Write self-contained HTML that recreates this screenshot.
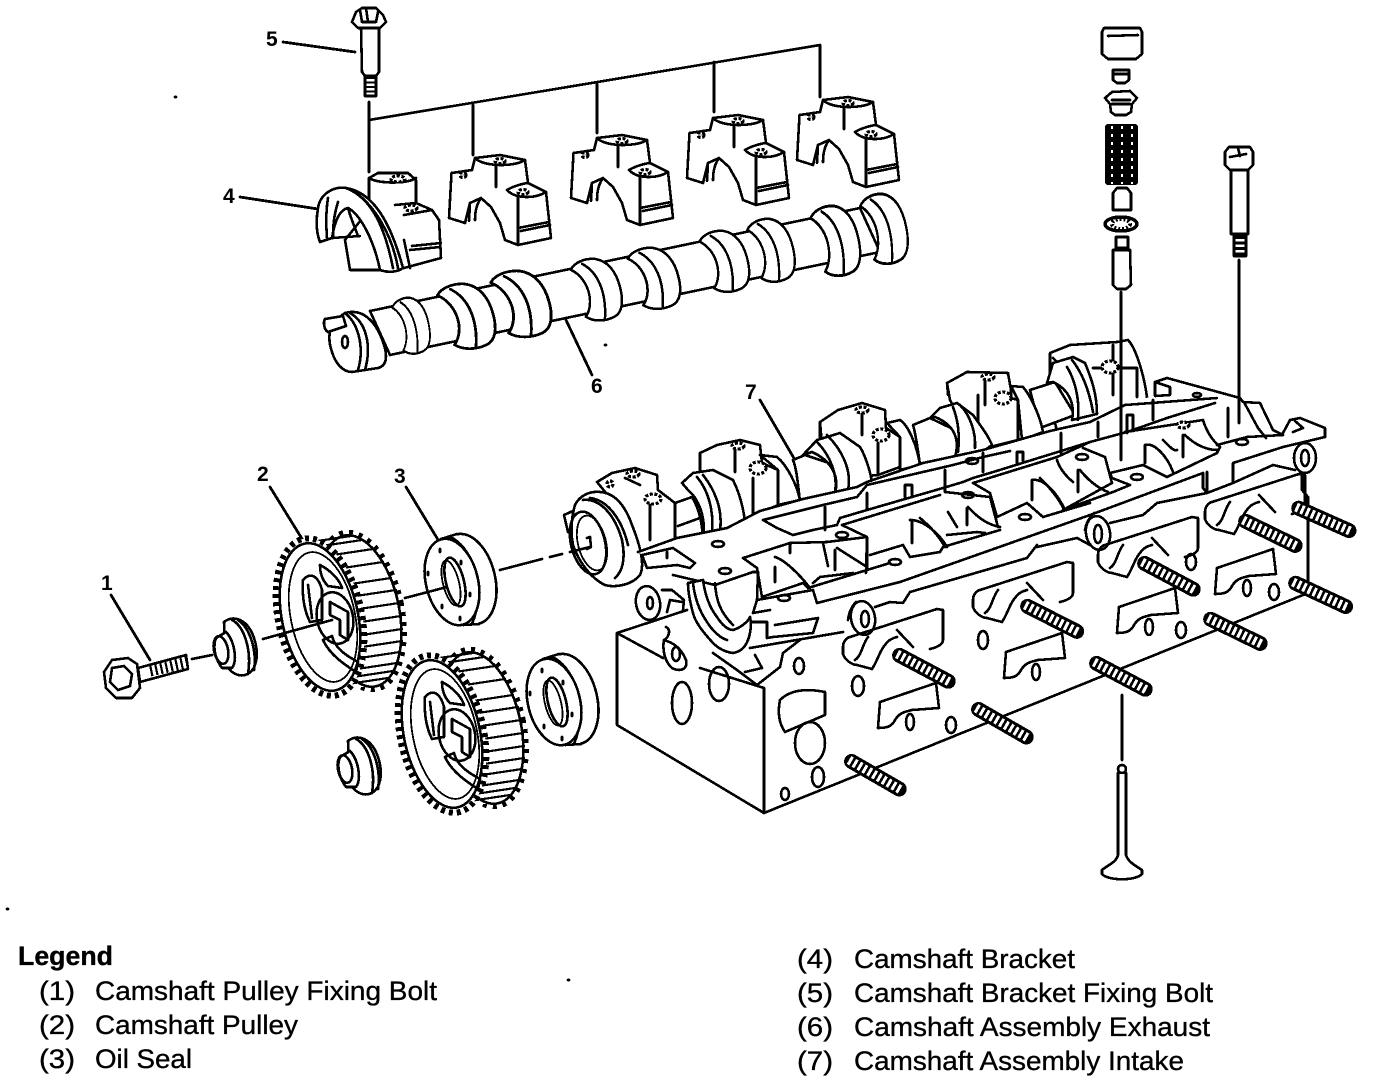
<!DOCTYPE html>
<html><head><meta charset="utf-8"><style>
html,body{margin:0;padding:0;background:#fff}
svg{display:block}
text{font-family:"Liberation Sans",sans-serif;fill:#000;stroke:#000;stroke-width:.35}
.n{font-size:21px;font-weight:bold;stroke:none}
.d{fill:none;stroke:#000;stroke-width:2.6;stroke-linejoin:round;stroke-linecap:round}
.w{fill:#fff;stroke:#000;stroke-width:2.6;stroke-linejoin:round;stroke-linecap:round}
.t{fill:none;stroke:#000;stroke-width:1.8;stroke-linejoin:round;stroke-linecap:round}
.b{fill:#fff;stroke:#000;stroke-width:3.2;stroke-dasharray:3 1.6}
</style></head><body>
<svg width="1376" height="1082" viewBox="0 0 1376 1082" xmlns="http://www.w3.org/2000/svg">
<defs>
<g id="br">
 <path class="w" d="M2.5,18 L23,15 L26,3 L51,0 L76,5 L79,28 L97,37 L102,83 L69,90 L56,85 L51,68 L42,52 L32,43 L21,48 L16,68 L0,63 Z"/>
 <path class="d" d="M26,3 C34,12 66,12 76,5 M47,10 L47,32 M58,35 C66,30 78,28 79,28 M58,35 C66,44 86,44 97,37 M69,42 L69,90 M69,73 L100,67 M72,76 L101,70 M21,48 L20,66 M32,43 C27,50 26,58 26,65"/>
 <ellipse class="b" cx="51" cy="6" rx="5" ry="2.5"/><ellipse class="b" cx="74" cy="37" rx="5" ry="2.5"/><ellipse class="b" cx="14" cy="20" rx="3" ry="2.5"/>
</g>
<g id="lobe">
 <path class="w" d="M6,12 C10,4 22,0 32,1 C45,3 54,14 58,30 C62,45 60,56 52,60 C42,65 30,65 22,60 C32,45 24,20 6,12 Z"/>
 <path class="d" d="M18,6 C34,14 44,34 42,63"/>
</g>
<g id="gear">
 <ellipse cx="360" cy="611" rx="42" ry="80" transform="rotate(-12 360 611)" fill="#fff" stroke="#000" stroke-width="5" stroke-dasharray="4 6"/>
 <path d="M304,543 L344,537 L376,685 L336,691Z" fill="#fff"/>
 <ellipse class="w" cx="360" cy="611" rx="39" ry="77" transform="rotate(-12 360 611)"/>
 <path class="t" style="stroke-width:2.2" d="M311,542 L351,536 M322,546 L362,540 M333,555 L373,549 M343,568 L383,562 M351,584 L391,578 M356,596 L396,590 M359,609 L399,603 M361,622 L401,616 M362,635 L402,629 M362,647 L402,641 M360,658 L400,652 M357,669 L397,663 M353,677 L393,671 M348,684 L388,678"/>
 <ellipse cx="320" cy="617" rx="42" ry="80" transform="rotate(-12 320 617)" fill="#fff" stroke="#000" stroke-width="6" stroke-dasharray="4 4"/>
 <ellipse class="w" cx="320" cy="617" rx="38" ry="75" transform="rotate(-12 320 617)"/>
 <ellipse class="t" cx="323" cy="617" rx="32" ry="66" transform="rotate(-12 323 617)"/>
 <ellipse class="d" cx="335" cy="618" rx="18" ry="26" transform="rotate(-12 335 618)"/>
 <path class="d" d="M303,580 C310,572 318,575 322,590 L322,620 L310,622 C304,610 302,595 303,580Z M308,585 L312,618 M320,565 C330,570 340,580 342,588 L328,586 C322,580 320,572 320,565Z M323,640 C330,655 345,665 356,672 L358,662 C345,655 335,648 332,636Z M330,602 L348,612 L348,640 L340,635 L340,620 L330,615Z"/>
</g>
<g id="seal">
 <ellipse class="w" cx="468" cy="579" rx="27" ry="46" transform="rotate(-14 468 579)"/>
 <path d="M441,539 L457,534 L479,624 L463,625Z" fill="#fff"/>
 <path class="d" d="M441,539 L457,534 M463,625 L479,624 M450,537 C470,545 488,585 472,624"/>
 <ellipse class="w" cx="452" cy="582" rx="26" ry="44" transform="rotate(-14 452 582)"/>
 <ellipse class="w" cx="455" cy="582" rx="9" ry="25" transform="rotate(-14 455 582)"/>
 <ellipse class="t" cx="451" cy="583" rx="8" ry="23" transform="rotate(-14 451 583)"/>
 <path class="d" d="M440,549 l0,3 M428,572 l0,3 M461,561 l0,3 M470,593 l0,3 M442,605 l0,3 M460,617 l0,3"/>
</g>
<g id="bush">
 <path class="w" d="M224,622 C234,614 248,620 254,638 C260,656 256,672 245,675 C238,677 230,672 226,665Z"/>
 <path class="d" d="M232,620 C244,626 252,650 248,674 M238,620 C250,628 257,650 254,670"/>
 <path class="w" d="M216,638 L226,632 C234,640 238,660 232,668 L222,668 C216,660 212,648 216,638Z"/>
 <ellipse class="d" cx="221" cy="650" rx="7" ry="14" transform="rotate(-12 221 650)"/>
</g>
<g id="stud">
 <line x1="3" y1="0" x2="58" y2="0" stroke="#000" stroke-width="15" stroke-linecap="round"/>
 <line x1="0" y1="0" x2="61" y2="0" stroke="#fff" stroke-width="9" stroke-dasharray="3 2.6"/>
</g>
<g id="port1">
 <path class="d" d="M843,647 C843,642 846,638 850,637 L937,609 L943,610 L943,640 C943,645 935,648 930,649 M843,647 L843,654 C845,660 852,665 857,665 L872,669 C878,660 880,650 885,645 C888,640 893,638 897,637 M868,637 C862,645 862,655 855,660 M897,630 L913,647"/>
</g>
<g id="port2">
 <path class="d" d="M880,702 L936,683 L939,708 L912,710 C905,712 900,712 895,720 C892,726 888,728 878,728 Z"/>
 <ellipse class="d" cx="910" cy="722" rx="4" ry="8"/>
</g>
</defs>

<g shape-rendering="crispEdges">
<!-- leaders top -->
<path class="d" d="M369,120 L820,45 M369,102 L369,172 M473,105 L473,155 M597,84 L597,133 M714,62 L714,112 M820,45 L820,97"/>
<path class="d" d="M283,42 L355,52 M240,197 L318,209 M566,320 L592,375 M760,400 L795,460 M111,595 L150,660 M270,487 L304,542 M406,487 L440,543" style="stroke-width:2.8"/>
<!-- bolt 5 -->
<path class="w" d="M356,12 L362,8 L376,8 L383,15 L386,22 L380,28 L358,28 L352,22Z"/>
<path class="d" d="M360,10 L362,22 L376,22 L378,12 M366,8 L368,22"/>
<path class="w" d="M361,28 L379,28 L379,72 L376,76 L365,76 L362,72Z"/>
<path class="w" d="M365,76 L376,76 L376,96 L365,96Z"/>
<line x1="370.5" y1="77" x2="370.5" y2="96" stroke="#000" stroke-width="10" stroke-dasharray="2 2.5"/>
<!-- brackets -->
<use href="#br" x="797" y="97"/><use href="#br" x="687" y="115"/><use href="#br" x="571" y="135"/><use href="#br" x="449" y="155"/>
<!-- bracket 1 -->
<path class="w" d="M369,178 L378,173 L408,173 L416,180 L416,203 L432,210 L439,220 L441,258 L404,268 L395,270 L385,270 L350,270 L345,240 L369,210Z"/>
<path class="d" d="M369,178 C378,184 408,184 416,178 M416,203 L395,205 M432,210 L404,215 M412,246 L441,243 M410,250 L440,247 M404,240 L410,268"/>
<path class="w" d="M318,208 C320,195 332,186 346,188 C372,192 390,220 403,268 C398,272 388,273 380,270 C374,240 360,214 348,208 C338,210 334,225 332,238 L320,242 C316,232 316,220 318,208Z"/>
<path class="d" d="M346,188 C372,198 385,228 393,268 M352,190 C375,205 392,235 398,268 M328,198 C326,210 326,225 327,238 M338,202 C334,215 333,225 333,238 M332,238 L360,236 M348,208 C352,222 356,230 358,236"/>
<ellipse class="b" cx="398" cy="179" rx="7" ry="3"/><ellipse class="b" cx="411" cy="208" rx="6" ry="3"/>
<!-- camshaft -->
<path class="w" d="M370,311 L860,208 L880,252 L390,355Z"/>
<use href="#lobe" transform="translate(855 193) scale(.88 1.11)"/>
<use href="#lobe" transform="translate(805 205) scale(.92 1.11)"/>
<use href="#lobe" transform="translate(742 218) scale(.88 1)"/>
<use href="#lobe" transform="translate(694 230) scale(.92 .97)"/>
<use href="#lobe" transform="translate(622 247) scale(.97 .97)"/>
<use href="#lobe" transform="translate(565 258) scale(.95 .98)"/>
<use href="#lobe" transform="translate(484 270) scale(1.12 1.05)"/>
<use href="#lobe" transform="translate(431 283) scale(1.07 1.03)"/>
<use href="#lobe" transform="translate(388 297) scale(.7 .89)"/>
<path class="w" d="M345,313 C362,308 376,320 384,345 C388,358 386,366 378,368 L352,372 C342,372 335,362 332,352 C328,340 326,325 345,313Z"/>
<path class="d" d="M350,313 C366,322 372,345 365,370 M345,313 C360,325 364,350 358,370"/>
<ellipse class="d" cx="345" cy="342" rx="3" ry="6"/>
<path class="w" d="M325,319 L343,316 L346,326 L328,332 C324,330 323,322 325,319Z"/>

<!-- INTAKE CAM right to left -->
<path class="w" d="M1050,353 L1070,345 L1117,342 L1128,340 C1136,348 1144,375 1147,397 L1147,420 L1060,445 L1050,400Z"/>
<path class="d" d="M1093,368 L1137,368 L1137,397 M1113,345 L1113,395 M1053,358 L1060,365"/>
<ellipse class="b" cx="1110" cy="367" rx="8" ry="6"/>
<path class="w" d="M1030,390 L1055,382 L1075,415 L1040,428Z"/>
<path class="w" d="M1047,383 L1053,363 L1073,357 L1085,363 C1092,380 1097,395 1097,414 L1072,420 C1075,405 1070,390 1053,382 Z"/>
<path class="d" d="M1067,367 C1075,380 1080,400 1078,420 M1072,360 C1084,375 1090,395 1093,412"/>
<path class="w" d="M947,383 L967,372 L1008,373 L1011,390 L1011,398 L1018,400 L1018,440 L978,450 L950,400Z"/>
<path class="d" d="M985,378 L985,405 M947,383 L948,395 M978,395 L978,450"/>
<ellipse class="b" cx="988" cy="377" rx="6" ry="3"/><ellipse class="b" cx="1003" cy="398" rx="8" ry="6"/>
<path class="w" d="M1011,386 L1023,387 C1030,395 1040,415 1043,432 L1022,440 L1018,400Z"/>
<path class="w" d="M913,425 L930,418 L955,430 L960,455 L920,465 C918,450 916,435 913,425Z"/>
<path class="w" d="M930,418 L940,408 L957,403 L973,415 C980,425 988,435 992,445 L985,450 L955,457 C960,440 955,425 935,417Z"/>
<path class="d" d="M953,407 C958,420 960,435 958,452 M960,405 C970,415 976,432 975,448"/>
<path class="w" d="M820,422 L838,410 L862,403 L885,410 L886,428 L900,437 L900,467 L878,475 L825,480Z"/>
<path class="d" d="M862,410 L862,435 M878,443 L878,475 M820,422 L820,440"/>
<ellipse class="b" cx="862" cy="410" rx="6" ry="3"/><ellipse class="b" cx="881" cy="435" rx="8" ry="6"/>
<path class="w" d="M887,423 L900,420 C908,425 917,445 920,465 L900,470 L900,437Z"/>
<path class="w" d="M793,460 L805,455 L835,465 L838,492 L800,502 C798,485 797,470 793,460Z"/>
<path class="w" d="M803,455 L817,440 L840,433 L860,447 C865,455 870,470 872,482 L850,490 L835,493 C840,475 830,460 812,452Z"/>
<path class="d" d="M817,442 C830,455 838,475 835,492 M827,435 C842,450 852,470 848,490"/>
<path class="w" d="M700,453 L717,445 L740,440 L760,445 L762,463 L778,470 L778,505 L745,520 L700,470Z"/>
<path class="d" d="M735,448 L735,472 M753,478 L753,520 M700,453 L700,472"/>
<ellipse class="b" cx="738" cy="446" rx="6" ry="3"/><ellipse class="b" cx="758" cy="468" rx="8" ry="6"/>
<path class="w" d="M760,455 L777,457 C787,465 797,485 800,500 L778,505 L778,470Z"/>
<path class="w" d="M682,483 L693,473 L713,470 L733,480 C738,490 743,505 745,522 L720,533 L703,537 C706,520 700,500 688,490Z"/>
<path class="d" d="M703,475 C715,490 723,510 720,530 M697,477 C708,490 714,510 712,532"/>
<path class="w" d="M675,503 L692,497 C700,510 702,525 703,537 L680,543 L675,540Z"/>
<path class="d" d="M678,526 L700,518"/>
<path class="w" d="M597,482 L612,473 L635,468 L657,475 L658,490 L675,503 L675,540 L640,552 L620,510Z"/>
<path class="d" d="M650,500 L650,540 M625,478 L640,485"/>
<ellipse class="b" cx="633" cy="474" rx="6" ry="3"/><ellipse class="b" cx="653" cy="499" rx="8" ry="5"/><ellipse class="b" cx="610" cy="484" rx="3" ry="3"/>
<!-- pulley -->
<path class="w" d="M564,515 L575,510 L575,530 L568,532Z"/>
<path class="w" d="M575,505 C580,495 590,491 600,492 C615,493 625,505 632,525 C640,545 645,565 640,575 C632,585 615,588 605,585 C590,578 578,560 573,545 C570,530 572,515 575,505Z"/>
<path class="d" d="M583,500 C600,498 615,515 622,540 C626,560 622,572 615,578 M590,498 C608,500 622,520 628,545"/>
<ellipse class="d" cx="588" cy="543" rx="17" ry="32" transform="rotate(-14 588 543)"/>
<ellipse class="t" cx="592" cy="543" rx="14" ry="28" transform="rotate(-14 592 543)"/>
<path class="d" d="M587,538 L590,537 L591,547 L587,549"/>

<!-- HEAD fill -->
<path d="M638,552 L677,538 L727,528 L760,511 L803,499 L857,487 L867,482 L923,463 L983,450 L1050,431 L1090,422 L1125,405 L1155,395 L1155,382 L1167,378 L1240,398 L1260,403 L1283,433 L1290,420 L1300,418 L1325,428 L1325,437 L1308,470 L1308,593 L764,813 L617,725 L617,633 L687,610 L672,575Z" fill="#fff"/>
<path class="d" d="M617,633 L687,610 M617,633 L617,725 L764,813 L1308,593 M1302,472 L1302,490 L1308,497 L1308,593 M617,633 L663,658 M700,668 L764,688 M764,688 L764,813"/>
<!-- rear rail -->
<path class="d" d="M638,552 L677,538 L727,528 L760,511 L803,499 L857,487 L867,482 L923,463 L983,450 L1050,431 L1090,422 L1125,405 L1217,398"/>
<path class="d" d="M1155,395 L1155,382 L1167,378 L1240,398 L1243,402 L1260,403 L1273,430 L1283,435 M1155,382 L1170,387 L1170,395 L1155,396 M1245,404 L1258,428 L1266,438"/>
<path class="d" d="M763,520 L777,528 L793,535 L813,530 L837,525 L840,518 L867,510 L943,488 L963,482 L973,478 L990,473 L1090,442 L1127,432 L1167,418 L1215,403 M763,520 L823,505 L857,497 L867,485 L953,465 L983,457 L1010,451"/>
<!-- rail verticals -->
<path class="d" d="M825,507 L825,530 M867,493 L867,510 M905,497 L905,485 L912,485 L912,495 M945,470 L945,492 M983,453 L983,472 M1017,463 L1017,452 L1023,452 L1023,461 M1061,433 L1061,453 M1098,422 L1098,437 M1127,433 L1127,415 L1133,415 L1133,431 M1153,400 L1153,420 M1228,408 L1228,437"/>
<!-- pocket lines -->
<path class="d" d="M743,558 L790,543 L827,542 L867,537 L866,573 M743,558 L757,568 L762,597 L803,583 L808,588 L890,563"/>
<path class="d" d="M775,567 L775,582 M775,557 C785,560 800,575 810,588 M813,583 L820,577 L853,573 M835,550 L835,570 M837,548 L867,567 M790,545 L790,553 M823,543 L828,566"/>
<path class="d" d="M842,525 L867,537 L867,570 M842,525 L940,495 M945,492 L990,497 L998,527 M870,555 L903,545 L910,557 L940,552 L943,547 L1000,530 M910,520 C925,520 940,535 947,547 M912,520 L912,543 M920,518 C932,528 940,538 945,547 M948,512 L957,527 M967,508 L967,525 M968,507 C978,518 988,525 1000,527 M947,535 L977,532 L985,533"/>
<path class="d" d="M973,483 L990,493 L997,517 L1027,503 L1043,517 L1090,503 M973,483 L1057,457 L1090,442 M1032,480 C1045,478 1058,495 1065,510 M1032,480 L1032,500 M1040,478 C1050,488 1060,500 1064,510 M1057,460 C1060,470 1068,478 1073,482 M1078,470 L1078,492 M1080,470 C1088,480 1098,488 1108,492"/>
<path class="d" d="M1083,448 L1105,457 L1112,483 L1063,510 M1063,510 L1113,492 L1130,485 L1112,478 L1110,473 L1143,465 L1167,477 L1217,453 M1145,445 C1155,442 1168,458 1173,472 M1145,445 L1145,463 M1163,440 C1168,445 1174,452 1177,450 M1183,435 L1183,457 M1185,435 C1195,445 1207,450 1217,450 M1125,432 L1203,420 C1206,430 1212,440 1220,447 L1217,453 M1217,445 L1247,437 L1283,435"/>
<!-- front rails -->
<path class="d" d="M817,603 L900,582 L1090,515 L1203,473 M1207,472 L1207,493 M1203,473 L1203,488 L1207,493"/>
<path class="d" d="M875,607 L890,602 L903,603 L910,592 L1027,558 L1037,545 M1037,547 L1077,538 L1090,545 M1110,523 L1143,515 L1157,503 L1207,493 L1233,483 L1233,463 L1283,447 L1325,437 M1233,483 L1273,465 L1295,470"/>
<path class="d" d="M642,555 L673,548 L695,563 L690,568 L677,565 L647,568 Z M667,552 L667,558 M673,575 L715,585 L753,572 L758,572 L757,600 L753,613 L770,610 M752,622 L767,622 L767,638 L773,637 L813,633 L818,618 L775,625 M750,648 L843,632 M757,600 L813,590 L817,603"/>
<!-- bearing -->
<path class="w" d="M688,583 L703,580 C705,595 710,608 717,617 C722,625 728,630 733,630 C740,628 748,622 750,617 C752,625 750,635 748,640 C745,648 740,652 733,653 C725,652 718,648 713,643 C703,632 695,622 693,613 C690,602 688,592 688,583Z"/>
<path class="d" d="M693,583 C695,600 700,612 707,622 C712,630 720,638 727,640 M715,583 C716,600 720,612 733,625"/>
<path class="d" d="M713,653 L737,670 L757,685 L780,667 L783,653 L800,640 M755,655 L762,668 L745,672"/>
<!-- lugs -->
<ellipse class="w" cx="648" cy="603" rx="12" ry="17" transform="rotate(-10 648 603)"/><ellipse class="d" cx="650" cy="603" rx="3" ry="6"/>
<path class="d" d="M662,590 L672,590 L684,600 L683,610 M667,612 L670,600 L682,602"/>
<path class="d" d="M666,627 C672,630 668,638 664,640 C670,642 680,645 686,660 C688,670 680,672 672,668 C665,662 662,650 664,640"/>
<ellipse class="d" cx="676" cy="654" rx="4" ry="7"/>
<ellipse class="w" cx="1098" cy="533" rx="12" ry="17" transform="rotate(-10 1098 533)"/><ellipse class="d" cx="1098" cy="534" rx="4" ry="9"/>
<ellipse class="w" cx="1305" cy="458" rx="11" ry="15"/><ellipse class="d" cx="1305" cy="458" rx="4" ry="8"/>
<ellipse class="w" cx="863" cy="618" rx="12" ry="17" transform="rotate(-10 863 618)"/><ellipse class="d" cx="865" cy="619" rx="4" ry="8"/>
<path class="d" d="M1283,433 L1290,420 L1300,418 L1325,428 L1325,437 M1295,421 L1303,428 L1293,432 M848,620 C849,612 852,606 856,602 M1085,530 C1086,522 1090,517 1094,513"/>
<!-- deck bolts -->
<ellipse class="d" cx="718" cy="544" rx="6" ry="3"/><ellipse class="d" cx="725" cy="571" rx="6" ry="3"/><ellipse class="d" cx="784" cy="598" rx="6" ry="3"/><ellipse class="d" cx="842" cy="535" rx="6" ry="3"/><ellipse class="d" cx="895" cy="562" rx="6" ry="3"/><ellipse class="d" cx="968" cy="495" rx="6" ry="3"/><ellipse class="d" cx="972" cy="461" rx="6" ry="3"/><ellipse class="d" cx="1025" cy="517" rx="6" ry="3"/><ellipse class="d" cx="1082" cy="457" rx="6" ry="3"/><ellipse class="d" cx="1137" cy="477" rx="6" ry="3"/><ellipse class="b" cx="1183" cy="425" rx="6" ry="3"/><ellipse class="d" cx="1242" cy="442" rx="6" ry="3"/><ellipse class="d" cx="1197" cy="395" rx="4" ry="2"/>
<!-- face holes -->
<ellipse class="d" cx="682" cy="703" rx="10" ry="21"/><ellipse class="d" cx="719" cy="684" rx="10" ry="17"/>
<path class="d" d="M780,700 C790,690 805,688 825,692 L825,715 L785,732 C778,722 778,710 780,700Z"/>
<ellipse class="d" cx="810" cy="743" rx="15" ry="21"/>
<ellipse class="d" cx="799" cy="666" rx="5" ry="8"/><ellipse class="d" cx="858" cy="686" rx="6" ry="10"/><ellipse class="d" cx="951" cy="725" rx="5" ry="8"/><ellipse class="d" cx="983" cy="640" rx="5" ry="9"/><ellipse class="d" cx="1181" cy="630" rx="5" ry="8"/><ellipse class="d" cx="1191" cy="562" rx="5" ry="8"/><ellipse class="d" cx="1274" cy="592" rx="5" ry="8"/><ellipse class="d" cx="818" cy="777" rx="6" ry="10"/><ellipse class="d" cx="785" cy="794" rx="4" ry="6"/>
<!-- ports -->
<use href="#port1"/><use href="#port1" x="130" y="-47"/><use href="#port1" x="255" y="-92"/><use href="#port1" x="362" y="-135"/>
<use href="#port2"/><use href="#port2" x="126" y="-50"/><use href="#port2" x="239" y="-95"/><use href="#port2" x="337" y="-134"/>
<!-- studs -->
<use href="#stud" transform="translate(897 654) rotate(28)"/>
<use href="#stud" transform="translate(1025 605) rotate(27)"/>
<use href="#stud" transform="translate(1142 562) rotate(28)"/>
<use href="#stud" transform="translate(1243 520) rotate(26)"/>
<use href="#stud" transform="translate(1296 507) rotate(24)"/>
<use href="#stud" transform="translate(1293 582) rotate(25)"/>
<use href="#stud" transform="translate(1208 618) rotate(26)"/>
<use href="#stud" transform="translate(1094 662) rotate(28)"/>
<use href="#stud" transform="translate(976 708) rotate(30)"/>
<use href="#stud" transform="translate(849 760) rotate(30)"/>

<!-- Valve train -->
<path class="w" d="M1104,28 L1140,28 L1142,32 L1142,54 L1136,59 L1108,59 L1102,54 L1102,32Z"/>
<path class="d" d="M1108,36 L1138,35"/>
<path class="w" d="M1113,70 L1129,70 L1129,80 L1125,83 L1117,83 L1113,80Z"/><path class="d" d="M1114,74 L1128,74"/>
<path class="w" d="M1112,92 L1130,91 L1137,98 L1132,104 L1131,112 L1126,115 L1115,115 L1111,112 L1110,104 L1105,98Z"/><path class="d" d="M1112,100 L1130,100 M1112,104 L1130,104"/>
<rect x="1105" y="124" width="33" height="61" rx="3" fill="#000"/>
<path d="M1112,126 L1112,184 M1122,126 L1122,184 M1132,126 L1132,184" fill="none" stroke="#fff" stroke-width="2.4" stroke-dasharray="3 5"/>
<path class="w" d="M1113,193 L1117,188 L1127,188 L1131,193 L1131,210 L1113,210Z"/>
<ellipse cx="1121" cy="224" rx="16" ry="7" fill="#fff" stroke="#000" stroke-width="3.5"/>
<ellipse cx="1121" cy="224" rx="9" ry="5" fill="none" stroke="#000" stroke-width="4" stroke-dasharray="2 2"/>
<rect class="w" x="1116" y="237" width="12" height="11"/>
<path class="w" d="M1113,250 L1130,250 L1131,285 L1126,289 L1117,289 L1113,285Z"/>
<path class="d" d="M1121,292 L1121,460"/>
<!-- Right bolt -->
<path class="w" d="M1229,147 L1250,147 L1253,152 L1253,165 L1248,170 L1230,170 L1225,165 L1225,152Z"/>
<path class="d" d="M1230,157 L1246,154 M1238,148 L1240,156"/>
<path class="w" d="M1231,170 L1248,170 L1248,234 L1231,234Z"/>
<rect class="w" x="1234" y="235" width="12" height="21"/>
<line x1="1240" y1="236" x2="1240" y2="256" stroke="#000" stroke-width="10" stroke-dasharray="3 2.5"/>
<path class="d" d="M1239,260 L1239,423"/>
<!-- valve -->
<path class="d" d="M1122,695 L1122,760"/>
<circle class="d" cx="1122" cy="769" r="4"/>
<path class="d" d="M1118,773 L1118,855 C1116,863 1106,866 1102,870 L1102,874 C1108,881 1136,881 1142,874 L1142,870 C1136,866 1128,862 1126,855 L1126,773"/>

<!-- gears etc -->
<use href="#gear"/>
<use href="#gear" x="122" y="117"/>
<use href="#seal"/>
<use href="#seal" x="102" y="120"/>
<use href="#bush"/>
<use href="#bush" x="124" y="119"/>
<!-- bolt 1 -->
<path class="w" d="M138,668 L186,655 L188,669 L140,682Z"/>
<line x1="150" y1="670" x2="187" y2="662" stroke="#000" stroke-width="13" stroke-dasharray="2.2 3"/>
<path class="w" d="M112,660 L128,658 L137,664 L140,688 L132,698 L116,698 L106,688 L104,672Z"/>
<path class="d" d="M112,668 L124,666 L132,674 L130,686 L118,690 L110,682Z"/>
<!-- dash centerlines -->
<path class="d" d="M192,659 L212,655 M263,639 L332,620 M405,598 L447,587 M500,570 L542,559 M550,557 L562,554 M570,552 L590,547"/>
<!-- specks -->
<path class="d" d="M175,97 l1,0 M7,909 l1,0 M568,980 l1,0 M605,345 l1,0"/>
</g>

<!-- callouts -->
<text class="n" x="266" y="46">5</text>
<text class="n" x="223" y="203">4</text>
<text class="n" x="591" y="393">6</text>
<text class="n" x="745" y="399">7</text>
<text class="n" x="101" y="590">1</text>
<text class="n" x="257" y="481">2</text>
<text class="n" x="394" y="483">3</text>

<!-- legend -->
<g font-size="27">
<text x="18" y="965" font-weight="bold" textLength="95" lengthAdjust="spacingAndGlyphs">Legend</text>
<text x="39" y="1000" textLength="36" lengthAdjust="spacingAndGlyphs">(1)</text>
<text x="95" y="1000" textLength="342" lengthAdjust="spacingAndGlyphs">Camshaft Pulley Fixing Bolt</text>
<text x="39" y="1034" textLength="36" lengthAdjust="spacingAndGlyphs">(2)</text>
<text x="95" y="1034" textLength="203" lengthAdjust="spacingAndGlyphs">Camshaft Pulley</text>
<text x="39" y="1068" textLength="36" lengthAdjust="spacingAndGlyphs">(3)</text>
<text x="95" y="1068" textLength="97" lengthAdjust="spacingAndGlyphs">Oil Seal</text>
<text x="797" y="968" textLength="36" lengthAdjust="spacingAndGlyphs">(4)</text>
<text x="854" y="968" textLength="221" lengthAdjust="spacingAndGlyphs">Camshaft Bracket</text>
<text x="797" y="1002" textLength="36" lengthAdjust="spacingAndGlyphs">(5)</text>
<text x="854" y="1002" textLength="359" lengthAdjust="spacingAndGlyphs">Camshaft Bracket Fixing Bolt</text>
<text x="797" y="1036" textLength="36" lengthAdjust="spacingAndGlyphs">(6)</text>
<text x="854" y="1036" textLength="356" lengthAdjust="spacingAndGlyphs">Camshaft Assembly Exhaust</text>
<text x="797" y="1070" textLength="36" lengthAdjust="spacingAndGlyphs">(7)</text>
<text x="854" y="1070" textLength="330" lengthAdjust="spacingAndGlyphs">Camshaft Assembly Intake</text>
</g>
</svg>
</body></html>
